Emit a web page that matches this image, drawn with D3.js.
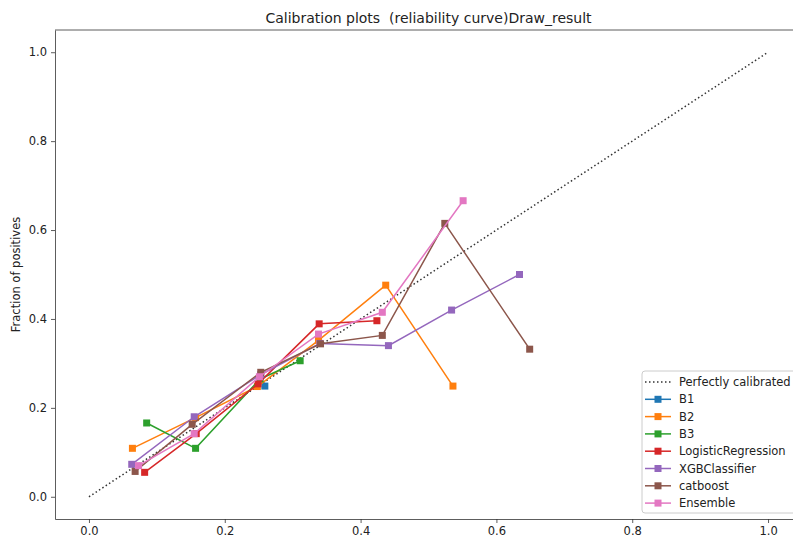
<!DOCTYPE html>
<html>
<head>
<meta charset="utf-8">
<script src="https://cdn.jsdelivr.net/npm/d3@7"></script>
<style>
  body { margin: 0; background: #fff; }
  svg { font-family: "DejaVu Sans", sans-serif; }
</style>
</head>
<body>
<div id="chart"></div>
<script>
// series names and colours (tab10)
const seriesNames = ['B1', 'B2', 'B3', 'LogisticRegression', 'XGBClassifier', 'catboost', 'Ensemble'];
const seriesColors = ['#1f77b4', '#ff7f0e', '#2ca02c', '#d62728', '#9467bd', '#8c564b', '#e377c2'];

// mean predicted value (x) per series
const predB1 = [0.259];
const predB2 = [0.064, 0.157, 0.248, 0.338, 0.437, 0.536];
const predB3 = [0.085, 0.157, 0.252, 0.311];
const predLR = [0.082, 0.158, 0.249, 0.339, 0.424];
const predXGB = [0.063, 0.155, 0.253, 0.340, 0.441, 0.534, 0.634];
const predCat = [0.068, 0.152, 0.253, 0.341, 0.432, 0.524, 0.649];
const predEns = [0.073, 0.155, 0.251, 0.338, 0.432, 0.551];

// fraction of positives (y) per series
const fracB1 = [0.249];
const fracB2 = [0.109, 0.178, 0.248, 0.352, 0.476, 0.249];
const fracB3 = [0.166, 0.109, 0.265, 0.306];
const fracLR = [0.055, 0.142, 0.254, 0.389, 0.396];
const fracXGB = [0.073, 0.180, 0.275, 0.345, 0.340, 0.420, 0.500];
const fracCat = [0.057, 0.163, 0.280, 0.344, 0.363, 0.615, 0.332];
const fracEns = [0.070, 0.142, 0.270, 0.366, 0.415, 0.666];

const tickValues = [0.0, 0.2, 0.4, 0.6, 0.8, 1.0];
const diagonal = [0, 1];

const preds = [predB1, predB2, predB3, predLR, predXGB, predCat, predEns];
const fracs = [fracB1, fracB2, fracB3, fracLR, fracXGB, fracCat, fracEns];

const width = 793;
const height = 542;
const margin = { left: 55, top: 30, right: -9, bottom: 23 };

const svg = d3.select('#chart')
    .append('svg')
    .attr('width', width)
    .attr('height', height);

const x = d3.scaleLinear()
    .domain([-0.05, 1.05])
    .range([margin.left, width - margin.right]);

const y = d3.scaleLinear()
    .domain([-0.05, 1.05])
    .range([height - margin.bottom, margin.top]);

// Axes (inner ticks only, no end caps)
const xAxis = svg.append('g')
    .attr('transform', `translate(0,${height - margin.bottom})`)
    .call(d3.axisBottom(x).tickValues(tickValues).tickFormat(d3.format('.1f')).tickSizeInner(4).tickSizeOuter(0).tickPadding(4));

const yAxis = svg.append('g')
    .attr('transform', `translate(${margin.left},0)`)
    .call(d3.axisLeft(y).tickValues(tickValues).tickFormat(d3.format('.1f')).tickSizeInner(4).tickSizeOuter(0).tickPadding(4));

[xAxis, yAxis].forEach(g => {
    g.selectAll('text').attr('font-size', '11.5px').attr('fill', '#222').attr('font-family', '"DejaVu Sans", sans-serif');
    g.selectAll('line').attr('stroke', '#333').attr('stroke-width', 0.8);
    g.select('.domain').attr('stroke', '#333').attr('stroke-width', 0.8);
});

// top and right spines
svg.append('line')
    .attr('x1', margin.left).attr('x2', width - margin.right)
    .attr('y1', margin.top).attr('y2', margin.top)
    .attr('stroke', '#333').attr('stroke-width', 0.8);
svg.append('line')
    .attr('x1', width - margin.right).attr('x2', width - margin.right)
    .attr('y1', margin.top).attr('y2', height - margin.bottom)
    .attr('stroke', '#333').attr('stroke-width', 0.8);

// Title and label
svg.append('text')
    .attr('x', (margin.left + width - margin.right) / 2)
    .attr('y', 23)
    .attr('text-anchor', 'middle')
    .attr('font-size', '14px')
    .attr('fill', '#222')
    .style('white-space', 'pre')
    .text('Calibration plots  (reliability curve)Draw_result');

svg.append('text')
    .attr('transform', `translate(20,${(margin.top + height - margin.bottom) / 2}) rotate(-90)`)
    .attr('text-anchor', 'middle')
    .attr('font-size', '11.5px')
    .attr('fill', '#222')
    .text('Fraction of positives');

const line = d3.line().x(d => x(d[0])).y(d => y(d[1]));

// Perfectly calibrated
svg.append('path')
    .datum(diagonal.map(v => [v, v]))
    .attr('d', line)
    .attr('fill', 'none')
    .attr('stroke', '#333')
    .attr('stroke-width', 1.5)
    .attr('stroke-dasharray', '1.5,2.5');

// Curves
const marker = 7;
seriesNames.forEach((name, i) => {
    const pts = preds[i].map((p, j) => [p, fracs[i][j]]);
    const g = svg.append('g');
    g.append('path')
        .datum(pts)
        .attr('d', line)
        .attr('fill', 'none')
        .attr('stroke', seriesColors[i])
        .attr('stroke-width', 1.5);
    g.selectAll('rect')
        .data(pts)
        .enter().append('rect')
        .attr('x', d => x(d[0]) - marker / 2)
        .attr('y', d => y(d[1]) - marker / 2)
        .attr('width', marker)
        .attr('height', marker)
        .attr('fill', seriesColors[i]);
});

// Legend
const legend = svg.append('g').attr('transform', 'translate(642,371)');
legend.append('rect')
    .attr('width', 160)
    .attr('height', 142)
    .attr('rx', 3)
    .attr('fill', 'rgba(255,255,255,0.8)')
    .attr('stroke', '#ccc')
    .attr('stroke-width', 1);

const legendItems = ['Perfectly calibrated'].concat(seriesNames);
legendItems.forEach((label, i) => {
    const row = legend.append('g').attr('transform', `translate(0,${11 + i * 17.3})`);
    if (i === 0) {
        row.append('line')
            .attr('x1', 3).attr('x2', 29)
            .attr('stroke', '#333').attr('stroke-width', 1.5)
            .attr('stroke-dasharray', '1.5,2.5');
    } else {
        const c = seriesColors[i - 1];
        row.append('line')
            .attr('x1', 3).attr('x2', 29)
            .attr('stroke', c).attr('stroke-width', 1.5);
        row.append('rect')
            .attr('x', 16 - marker / 2).attr('y', -marker / 2)
            .attr('width', marker).attr('height', marker)
            .attr('fill', c);
    }
    row.append('text')
        .attr('x', 37)
        .attr('dy', '0.35em')
        .attr('font-size', '11.5px')
        .attr('fill', '#222')
        .text(label);
});
</script>
</body>
</html>
